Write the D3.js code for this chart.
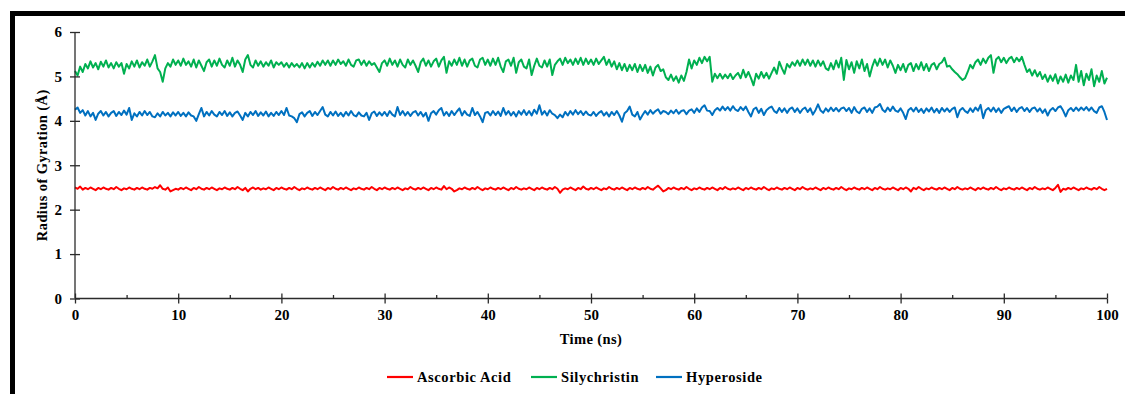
<!DOCTYPE html>
<html>
<head>
<meta charset="utf-8">
<script src="https://cdn.jsdelivr.net/npm/d3@7"></script>
<style>
  body { margin: 0; background: #fff; }
  svg text { font-family: "Liberation Serif", "Times New Roman", serif; font-weight: bold; fill: #000; }
</style>
</head>
<body>
<div id="chart"></div>
<script>
const timeStep = 0.25;

const ascorbicAcid = [
  2.5, 2.47, 2.52, 2.45, 2.49, 2.46, 2.5, 2.47, 2.44, 2.49,
  2.46, 2.5, 2.47, 2.45, 2.49, 2.46, 2.51, 2.47, 2.44, 2.48,
  2.46, 2.5, 2.47, 2.45, 2.49, 2.46, 2.5, 2.47, 2.45, 2.49,
  2.47, 2.51, 2.48, 2.55, 2.47, 2.45, 2.5, 2.41, 2.44, 2.47,
  2.45, 2.49, 2.46, 2.5, 2.47, 2.44, 2.49, 2.46, 2.51, 2.47,
  2.45, 2.49, 2.46, 2.5, 2.47, 2.44, 2.48, 2.46, 2.5, 2.47,
  2.45, 2.49, 2.46, 2.51, 2.47, 2.44, 2.49, 2.41, 2.47, 2.5,
  2.46, 2.49, 2.45, 2.48, 2.46, 2.5, 2.47, 2.44, 2.49, 2.46,
  2.5, 2.47, 2.45, 2.49, 2.46, 2.51, 2.47, 2.44, 2.48, 2.46,
  2.5, 2.47, 2.45, 2.49, 2.46, 2.5, 2.47, 2.44, 2.49, 2.46,
  2.51, 2.47, 2.45, 2.49, 2.46, 2.5, 2.47, 2.44, 2.48, 2.46,
  2.5, 2.47, 2.45, 2.49, 2.46, 2.51, 2.47, 2.44, 2.49, 2.46,
  2.5, 2.47, 2.45, 2.49, 2.46, 2.5, 2.47, 2.44, 2.48, 2.46,
  2.51, 2.47, 2.45, 2.49, 2.46, 2.5, 2.47, 2.44, 2.49, 2.46,
  2.5, 2.47, 2.45, 2.53, 2.46, 2.5, 2.47, 2.41, 2.44, 2.48,
  2.46, 2.5, 2.47, 2.45, 2.49, 2.46, 2.51, 2.47, 2.44, 2.48,
  2.46, 2.5, 2.47, 2.45, 2.49, 2.46, 2.5, 2.47, 2.44, 2.49,
  2.46, 2.51, 2.47, 2.45, 2.48, 2.46, 2.5, 2.47, 2.44, 2.49,
  2.46, 2.5, 2.47, 2.45, 2.49, 2.46, 2.51, 2.47, 2.38, 2.45,
  2.48, 2.46, 2.5, 2.47, 2.44, 2.49, 2.46, 2.52, 2.47, 2.45,
  2.49, 2.46, 2.5, 2.47, 2.44, 2.48, 2.46, 2.51, 2.47, 2.45,
  2.49, 2.46, 2.5, 2.47, 2.44, 2.49, 2.46, 2.5, 2.47, 2.45,
  2.49, 2.46, 2.51, 2.47, 2.45, 2.5, 2.54, 2.48, 2.41, 2.44,
  2.49, 2.46, 2.5, 2.47, 2.45, 2.49, 2.46, 2.51, 2.47, 2.44,
  2.48, 2.46, 2.5, 2.47, 2.45, 2.49, 2.46, 2.5, 2.47, 2.44,
  2.49, 2.46, 2.51, 2.47, 2.45, 2.48, 2.46, 2.5, 2.47, 2.44,
  2.49, 2.46, 2.5, 2.47, 2.45, 2.49, 2.46, 2.51, 2.47, 2.44,
  2.48, 2.46, 2.5, 2.47, 2.45, 2.49, 2.46, 2.5, 2.47, 2.44,
  2.49, 2.46, 2.51, 2.47, 2.45, 2.48, 2.46, 2.5, 2.47, 2.44,
  2.49, 2.46, 2.5, 2.47, 2.45, 2.49, 2.46, 2.51, 2.47, 2.44,
  2.48, 2.46, 2.5, 2.47, 2.45, 2.49, 2.46, 2.5, 2.47, 2.44,
  2.49, 2.46, 2.51, 2.47, 2.45, 2.48, 2.46, 2.5, 2.47, 2.44,
  2.49, 2.46, 2.5, 2.47, 2.41, 2.49, 2.46, 2.51, 2.47, 2.44,
  2.48, 2.46, 2.5, 2.47, 2.45, 2.49, 2.46, 2.5, 2.47, 2.44,
  2.49, 2.46, 2.51, 2.47, 2.45, 2.48, 2.46, 2.5, 2.47, 2.44,
  2.49, 2.46, 2.5, 2.47, 2.45, 2.49, 2.46, 2.51, 2.47, 2.44,
  2.48, 2.46, 2.5, 2.47, 2.45, 2.49, 2.46, 2.5, 2.47, 2.44,
  2.49, 2.46, 2.51, 2.47, 2.45, 2.48, 2.46, 2.5, 2.47, 2.44,
  2.49, 2.56, 2.4, 2.47, 2.45, 2.49, 2.46, 2.5, 2.47, 2.44,
  2.48, 2.46, 2.5, 2.47, 2.45, 2.49, 2.46, 2.51, 2.47, 2.44,
  2.47
];

const silychristin = [
  5.12, 5.02, 5.22, 5.1, 5.28, 5.18, 5.34, 5.2, 5.3, 5.16,
  5.33, 5.22, 5.36, 5.2, 5.3, 5.18, 5.32, 5.22, 5.3, 5.06,
  5.28, 5.18, 5.34, 5.22, 5.36, 5.2, 5.32, 5.24, 5.38, 5.22,
  5.34, 5.48, 5.18, 5.1, 4.88, 5.18, 5.3, 5.22, 5.38, 5.26,
  5.36, 5.24, 5.4, 5.26, 5.34, 5.22, 5.38, 5.2, 5.36, 5.24,
  5.12, 5.32, 5.38, 5.22, 5.36, 5.24, 5.4, 5.26, 5.2, 5.36,
  5.24, 5.42, 5.22, 5.36, 5.26, 5.1, 5.38, 5.48, 5.26, 5.2,
  5.36, 5.24, 5.34, 5.22, 5.32, 5.24, 5.36, 5.2, 5.32, 5.26,
  5.32, 5.22, 5.3, 5.2, 5.3, 5.22, 5.28, 5.2, 5.3, 5.18,
  5.3, 5.2, 5.3, 5.22, 5.33, 5.24, 5.36, 5.26, 5.36, 5.24,
  5.36, 5.26, 5.38, 5.28, 5.34, 5.24, 5.38, 5.26, 5.22, 5.36,
  5.38, 5.26, 5.36, 5.24, 5.34, 5.26, 5.3, 5.2, 5.1, 5.3,
  5.36, 5.24, 5.4, 5.26, 5.36, 5.22, 5.38, 5.26, 5.2, 5.38,
  5.26, 5.36, 5.24, 5.1, 5.32, 5.4, 5.24, 5.36, 5.22, 5.34,
  5.4, 5.22, 5.36, 5.44, 5.08, 5.34, 5.24, 5.38, 5.26, 5.42,
  5.24, 5.38, 5.22, 5.36, 5.4, 5.24, 5.2, 5.38, 5.42, 5.26,
  5.38, 5.24, 5.4, 5.26, 5.42, 5.22, 5.1, 5.34, 5.38, 5.24,
  5.42, 5.08, 5.32, 5.38, 5.22, 5.18, 5.38, 5.03, 5.24, 5.4,
  5.24, 5.2, 5.36, 5.22, 5.38, 5.03, 5.26, 5.34, 5.4, 5.26,
  5.42, 5.3, 5.38, 5.26, 5.4, 5.28, 5.42, 5.26, 5.4, 5.28,
  5.38, 5.26, 5.4, 5.28, 5.36, 5.44, 5.26, 5.38, 5.22, 5.34,
  5.16, 5.3, 5.14, 5.28, 5.12, 5.26, 5.14, 5.28, 5.1, 5.26,
  5.12, 5.26, 5.08, 5.22, 5.02, 5.2, 5.26, 5.12, 5.16, 4.98,
  4.92, 5.04, 4.9, 5.0, 4.86, 5.02, 4.9, 5.1, 5.38, 5.18,
  5.36, 5.26, 5.42, 5.3, 5.44, 5.34, 5.44, 4.88, 5.06, 4.96,
  5.06, 4.95, 5.04, 4.96, 5.06, 4.94, 5.02, 5.08, 4.96, 5.15,
  4.98, 5.1, 4.96, 4.8, 5.06, 4.95, 5.1, 4.97, 5.08, 4.95,
  5.08, 5.2, 5.06, 5.33, 5.18, 5.06, 5.28, 5.2, 5.32, 5.24,
  5.36, 5.24, 5.38, 5.26, 5.38, 5.24, 5.36, 5.22, 5.36, 5.24,
  5.34, 5.18, 5.14, 5.3, 5.16, 5.36, 5.2, 5.42, 4.92, 5.37,
  5.16, 5.32, 5.08, 5.34, 5.18, 5.38, 5.12, 5.28, 5.0, 5.22,
  5.38, 5.24, 5.4, 5.26, 5.38, 5.2, 5.36, 5.24, 5.08, 5.26,
  5.14, 5.28, 5.1, 5.26, 5.3, 5.12, 5.28, 5.16, 5.32, 5.14,
  5.28, 5.12, 5.26, 5.3, 5.16, 5.28, 5.32, 5.42, 5.22, 5.24,
  5.16, 5.1, 5.05, 4.98, 4.92, 4.96, 5.1, 5.26, 5.18, 5.32,
  5.38, 5.26, 5.4, 5.3, 5.42, 5.48, 5.08, 5.38, 5.44, 5.32,
  5.42, 5.3, 5.4, 5.44, 5.32, 5.42, 5.34, 5.44, 5.26, 5.1,
  5.16, 5.02, 5.14, 5.0, 5.1, 4.94, 5.04, 4.88, 5.02, 4.9,
  5.05, 4.84, 5.0, 4.88, 5.04, 4.86, 5.02, 4.92, 5.26, 4.88,
  5.12, 4.8, 5.06, 4.92, 5.16, 4.78, 5.02, 4.88, 5.12, 4.84,
  4.97
];

const hyperoside = [
  4.25, 4.3, 4.18, 4.24, 4.12, 4.22, 4.1, 4.18, 4.02, 4.16,
  4.22, 4.12, 4.2, 4.1, 4.18, 4.22, 4.11, 4.2, 4.13, 4.23,
  4.14, 4.29, 4.02, 4.17, 4.1, 4.2, 4.12, 4.22, 4.13, 4.2,
  4.1, 4.08, 4.17, 4.1, 4.2, 4.12, 4.18, 4.1, 4.19, 4.12,
  4.2, 4.11, 4.18, 4.1, 4.19, 4.12, 4.1, 4.0, 4.15, 4.29,
  4.1, 4.2, 4.12, 4.22, 4.14, 4.1, 4.2, 4.13, 4.22, 4.11,
  4.19, 4.1, 4.18, 4.21, 4.12, 4.02, 4.18, 4.1, 4.2, 4.13,
  4.22, 4.11, 4.19, 4.12, 4.21, 4.1, 4.18, 4.11, 4.2, 4.13,
  4.22, 4.13, 4.29, 4.12, 4.1, 4.06, 3.97, 4.15, 4.19, 4.1,
  4.18, 4.22, 4.11, 4.2, 4.13, 4.22, 4.31, 4.14, 4.1, 4.2,
  4.12, 4.21, 4.11, 4.18, 4.1, 4.2, 4.12, 4.22, 4.13, 4.1,
  4.19, 4.12, 4.1, 4.18, 4.02, 4.17, 4.21, 4.11, 4.19, 4.12,
  4.2, 4.11, 4.22, 4.14, 4.1, 4.31, 4.13, 4.22, 4.12, 4.2,
  4.11, 4.19, 4.22, 4.12, 4.2, 4.1, 4.18, 4.0, 4.17, 4.22,
  4.14, 4.24, 4.29, 4.12, 4.2, 4.11, 4.22, 4.13, 4.21, 4.28,
  4.12, 4.22, 4.14, 4.11, 4.29, 4.13, 4.2, 4.1, 3.97, 4.18,
  4.2, 4.12, 4.22, 4.13, 4.21, 4.11, 4.29, 4.14, 4.22, 4.12,
  4.2, 4.1, 4.22, 4.14, 4.24, 4.13, 4.22, 4.12, 4.25, 4.16,
  4.35, 4.14, 4.22, 4.12, 4.24, 4.16, 4.13, 4.06, 4.14, 4.08,
  4.2, 4.12, 4.22, 4.14, 4.24, 4.15, 4.22, 4.13, 4.21, 4.14,
  4.12, 4.2, 4.11, 4.18, 4.22, 4.12, 4.19, 4.1, 4.2, 4.13,
  4.22, 4.12, 3.98, 4.17, 4.22, 4.32, 4.14, 4.1, 4.2, 4.03,
  4.13, 4.22, 4.14, 4.24, 4.16, 4.22, 4.26, 4.16, 4.22, 4.2,
  4.15, 4.23, 4.17, 4.25, 4.16, 4.22, 4.24, 4.15, 4.23, 4.26,
  4.18, 4.28, 4.2, 4.3, 4.35, 4.23, 4.22, 4.13, 4.24, 4.29,
  4.23, 4.32, 4.24, 4.31, 4.23, 4.33, 4.25, 4.22, 4.31, 4.24,
  4.32, 4.2, 4.1, 4.26, 4.3, 4.18, 4.27, 4.13, 4.24, 4.29,
  4.32, 4.22, 4.18, 4.29, 4.2, 4.28, 4.18, 4.27, 4.3, 4.2,
  4.28, 4.18, 4.26, 4.3, 4.2, 4.28, 4.14, 4.24, 4.37, 4.23,
  4.18, 4.28, 4.21, 4.3, 4.22, 4.29, 4.21, 4.28, 4.3, 4.22,
  4.29, 4.18, 4.31, 4.21, 4.17, 4.27, 4.3, 4.2, 4.28, 4.18,
  4.3, 4.32, 4.38, 4.25, 4.2, 4.3, 4.22, 4.32, 4.23, 4.2,
  4.28, 4.18, 4.04, 4.24, 4.29, 4.21, 4.3, 4.2, 4.27, 4.18,
  4.28, 4.21, 4.3, 4.19, 4.27, 4.18, 4.29, 4.21, 4.28, 4.2,
  4.27, 4.3, 4.08, 4.24, 4.29, 4.22, 4.18, 4.28, 4.2, 4.3,
  4.23, 4.36, 4.06, 4.24, 4.29, 4.21, 4.3, 4.2, 4.28, 4.18,
  4.27, 4.3, 4.33, 4.22, 4.3, 4.2, 4.28, 4.31, 4.22, 4.29,
  4.2, 4.28, 4.3, 4.21, 4.28, 4.18, 4.26, 4.12, 4.24, 4.29,
  4.22, 4.3, 4.33, 4.23, 4.1, 4.24, 4.29, 4.22, 4.3, 4.23,
  4.3, 4.24, 4.31, 4.23, 4.3, 4.22, 4.18, 4.3, 4.33, 4.2,
  4.02
];

const seriesNames = ['Ascorbic Acid', 'Silychristin', 'Hyperoside'];
const seriesColors = ['#ff0000', '#00b050', '#0070c0'];
const xTicks = [0, 10, 20, 30, 40, 50, 60, 70, 80, 90, 100];
const xMinorTicks = [5, 15, 25, 35, 45, 55, 65, 75, 85, 95];
const yTicks = [0, 1, 2, 3, 4, 5, 6];

const width = 1125, height = 394;
const svg = d3.select('#chart').append('svg').attr('width', width).attr('height', height);

// black frame (top and left only show in the figure)
svg.append('path')
  .attr('d', 'M12.5,' + height + 'V13.5H' + width)
  .attr('fill', 'none').attr('stroke', '#000').attr('stroke-width', 5);

const x = d3.scaleLinear().domain([0, 100]).range([75, 1107]);
const y = d3.scaleLinear().domain([0, 6]).range([298.5, 32]);

const allSeries = [ascorbicAcid, silychristin, hyperoside];
const line = d3.line()
  .x((d, i) => x(i * timeStep))
  .y(d => y(d));

// draw green, blue, then red like the original stacking
[1, 2, 0].forEach(k => {
  svg.append('path')
    .datum(allSeries[k])
    .attr('fill', 'none')
    .attr('stroke', seriesColors[k])
    .attr('stroke-width', 2)
    .attr('stroke-linejoin', 'round')
    .attr('d', line);
});

const axisColor = '#2b2b2b';

// y axis: outer ticks with labels, then inner half of the ticks
const gy = svg.append('g').attr('transform', 'translate(75,0)')
  .call(d3.axisLeft(y).tickValues(yTicks).tickSize(5).tickPadding(8).tickFormat(d3.format('d')));
svg.append('g').attr('transform', 'translate(75,0)')
  .call(d3.axisLeft(y).tickValues(yTicks).tickSize(-5).tickFormat(''))
  .select('.domain').remove();

const gx = svg.append('g').attr('transform', 'translate(0,298.5)')
  .call(d3.axisBottom(x).tickValues(xTicks).tickSize(5).tickPadding(6).tickFormat(d3.format('d')));
svg.append('g').attr('transform', 'translate(0,298.5)')
  .call(d3.axisBottom(x).tickValues(xTicks).tickSize(-5).tickFormat(''))
  .select('.domain').remove();
svg.append('g').attr('transform', 'translate(0,298.5)')
  .call(d3.axisBottom(x).tickValues(xMinorTicks).tickSize(-3.5).tickFormat(''))
  .select('.domain').remove();

svg.selectAll('.domain, .tick line').attr('stroke', axisColor).attr('stroke-width', 1.3);
gy.selectAll('.domain').attr('d', 'M0,' + y(6) + 'V' + y(0));
gx.selectAll('.domain').attr('d', 'M' + x(0) + ',0H' + x(100));
svg.selectAll('.tick text').attr('font-size', 15).attr('font-family', null).attr('fill', '#000');

// axis titles
svg.append('text')
  .attr('x', (x(0) + x(100)) / 2).attr('y', 344)
  .attr('text-anchor', 'middle').attr('font-size', 14.5)
  .attr('letter-spacing', 0.4)
  .text('Time (ns)');

svg.append('text')
  .attr('transform', 'translate(47,' + ((y(0) + y(6)) / 2) + ') rotate(-90)')
  .attr('text-anchor', 'middle').attr('font-size', 14.5)
  .attr('letter-spacing', 0.4)
  .text('Radius of Gyration (Å)');

// legend
const legendX = [387, 531, 656];
const legend = svg.append('g').attr('transform', 'translate(0,377)');
seriesNames.forEach((name, i) => {
  legend.append('line')
    .attr('x1', legendX[i]).attr('x2', legendX[i] + 26)
    .attr('y1', 0).attr('y2', 0)
    .attr('stroke', seriesColors[i]).attr('stroke-width', 2.2);
  legend.append('text')
    .attr('x', legendX[i] + 30).attr('y', 5)
    .attr('font-size', 14.5)
    .attr('letter-spacing', 0.6)
    .text(name);
});
</script>
</body>
</html>
